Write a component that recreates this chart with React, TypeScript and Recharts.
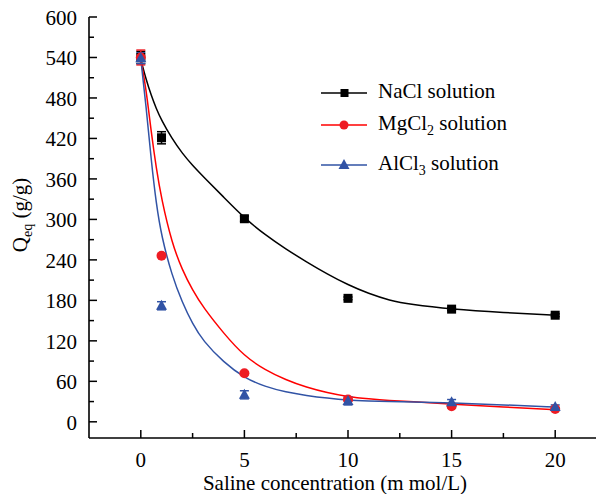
import { ComposedChart, Line, Scatter, XAxis, YAxis, ErrorBar, Legend, Label } from 'recharts';

// measured points
const concentration = [0, 1, 5, 10, 15, 20];
const naclQ = [540, 421, 301, 183, 167, 158];
const naclErr = [9, 9, 4, 2, 2, 2];
const mgcl2Q = [540, 246, 72, 33, 23, 19];
const mgcl2Err = [11, 2, 2, 2, 2, 2];
const alcl3Q = [539, 172, 40, 31, 29, 22];
const alcl3Err = [8, 6, 6, 6, 4, 3];

// fitted curves
const fitX = [0, 0.25, 0.5, 0.75, 1, 1.5, 2, 2.5, 3, 4, 5, 6, 7, 8, 9, 10, 11, 12, 13, 15, 17.5, 20];
const naclFit = [537, 508, 484, 464, 447, 420, 398, 380, 364, 333, 302, 277, 256, 237, 219, 203, 190, 180, 174, 167, 162, 158];
const mgcl2Fit = [537, 495, 430, 375, 330, 265, 225, 195, 170, 131, 97, 77, 62, 51, 43, 37, 34, 31.5, 30, 26, 22, 18];
const alcl3Fit = [537, 470, 388, 322, 275, 217, 177, 145, 120, 88, 65, 52, 44, 39, 35, 32, 31, 30, 29.5, 28, 25, 22];

const xTicks = [0, 2.5, 5, 7.5, 10, 12.5, 15, 17.5, 20];
const yTicks = [0, 30, 60, 90, 120, 150, 180, 210, 240, 270, 300, 330, 360, 390, 420, 450, 480, 510, 540, 570, 600];

const BLACK = '#000000';
const RED = '#ff0000';
const RED_PT = '#ee1c24';
const BLUE = '#3153a5';
const FONT = '"Liberation Serif", "Times New Roman", serif';

const points = (q: number[], err: number[]) => concentration.map((x, i) => ({ x, y: q[i], err: err[i] }));
const curve = (q: number[]) => fitX.map((x, i) => ({ x, y: q[i] }));

const Square = (p: any) => <rect x={p.cx - 4.5} y={p.cy - 4.5} width={9} height={9} fill={BLACK} />;
const Dot = (p: any) => <circle cx={p.cx} cy={p.cy} r={5} fill={RED_PT} />;
const Tri = (p: any) => (
	<polygon points={`${p.cx},${p.cy - 6} ${p.cx - 5.5},${p.cy + 4} ${p.cx + 5.5},${p.cy + 4}`} fill={BLUE} />
);

const XTick = (props: any) => {
	const { x, y, payload } = props;
	const major = payload.value % 5 === 0;
	return (
		<g>
			<line x1={x} x2={x} y1={y} y2={y - (major ? 8 : 5)} stroke={BLACK} strokeWidth={1.5} />
			{major && (
				<text x={x} y={y + 29} textAnchor="middle" fontSize={21} fontFamily={FONT} fill={BLACK}>
					{payload.value}
				</text>
			)}
		</g>
	);
};

const YTick = (props: any) => {
	const { x, y, payload } = props;
	const major = payload.value % 60 === 0;
	return (
		<g>
			<line x1={x} x2={x + (major ? 8 : 5)} y1={y} y2={y} stroke={BLACK} strokeWidth={1.5} />
			{major && (
				<text x={x - 12} y={y} dy="0.38em" textAnchor="end" fontSize={21} fontFamily={FONT} fill={BLACK}>
					{payload.value}
				</text>
			)}
		</g>
	);
};

const LegendBox = () => {
	const rows = [
		{ y: 16, color: BLACK, mark: 'square', name: 'NaCl', sub: '' },
		{ y: 48, color: RED, mark: 'circle', name: 'MgCl', sub: '2' },
		{ y: 88, color: BLUE, mark: 'tri', name: 'AlCl', sub: '3' },
	];
	return (
		<svg width={200} height={110} style={{ fontFamily: FONT }}>
			{rows.map((r) => (
				<g key={r.name}>
					<line x1={11} x2={57} y1={r.y} y2={r.y} stroke={r.color} strokeWidth={1.5} />
					{r.mark === 'square' && <rect x={30.5} y={r.y - 4} width={8} height={8} fill={BLACK} />}
					{r.mark === 'circle' && <circle cx={34} cy={r.y} r={4.5} fill={RED_PT} />}
					{r.mark === 'tri' && <polygon points={`34,${r.y - 6} 28.5,${r.y + 4} 39.5,${r.y + 4}`} fill={BLUE} />}
					<text x={68} y={r.y + 5} fontSize={21} fill={BLACK}>
						{r.name}
						{r.sub && (
							<tspan fontSize={14} dy={5}>
								{r.sub}
							</tspan>
						)}
						<tspan dy={r.sub ? -5 : 0}> solution</tspan>
					</text>
				</g>
			))}
		</svg>
	);
};

export default function App() {
	return (
		<div style={{ width: 596, height: 496, marginTop: -10, overflow: 'hidden' }}>
			<ComposedChart width={600} height={496} margin={{ top: 19, right: 1, bottom: 0, left: 0 }} style={{ fontFamily: FONT }}>
				<XAxis
					dataKey="x"
					type="number"
					domain={[-2.5, 22.5]}
					ticks={xTicks}
					interval={0}
					height={56}
					tickSize={0}
					tickMargin={0}
					tickLine={false}
					tick={<XTick />}
					axisLine={{ stroke: BLACK, strokeWidth: 1.6 }}
					allowDataOverflow
				>
					<Label
						content={(p: any) => {
							const vb = p.viewBox;
							return (
								<text x={vb.x + vb.width / 2 - 13} y={vb.y + 52} textAnchor="middle" fontSize={21} fontFamily={FONT} fill={BLACK}>
									Saline concentration (m mol/L)
								</text>
							);
						}}
					/>
				</XAxis>
				<XAxis
					xAxisId="top"
					orientation="top"
					type="number"
					domain={[-2.5, 22.5]}
					height={0}
					tick={false}
					tickLine={false}
					axisLine={{ stroke: BLACK, strokeWidth: 1.6 }}
				/>
				<YAxis
					type="number"
					domain={[-24, 600]}
					ticks={yTicks}
					interval={0}
					width={81}
					tickSize={0}
					tickMargin={0}
					tickLine={false}
					tick={<YTick />}
					axisLine={{ stroke: BLACK, strokeWidth: 1.6 }}
					allowDataOverflow
				>
					<Label
						content={() => (
							<text x={19} y={217} transform="rotate(-90 19 217)" textAnchor="middle" fontSize={21} fontFamily={FONT} fill={BLACK}>
								Q
								<tspan fontSize={14} dy={5}>
									eq
								</tspan>
								<tspan dy={-5}> (g/g)</tspan>
							</text>
						)}
					/>
				</YAxis>
				<YAxis yAxisId="right" orientation="right" width={0} tick={false} tickLine={false} axisLine={{ stroke: BLACK, strokeWidth: 1.6 }} />

				<Line data={curve(naclFit)} dataKey="y" type="basis" stroke={BLACK} strokeWidth={1.5} dot={false} isAnimationActive={false} />
				<Line data={curve(mgcl2Fit)} dataKey="y" type="basis" stroke={RED} strokeWidth={1.5} dot={false} isAnimationActive={false} />
				<Line data={curve(alcl3Fit)} dataKey="y" type="basis" stroke={BLUE} strokeWidth={1.5} dot={false} isAnimationActive={false} />

				<Scatter name="NaCl solution" data={points(naclQ, naclErr)} dataKey="y" shape={Square} isAnimationActive={false}>
					<ErrorBar dataKey="err" direction="y" width={4.5} stroke={BLACK} strokeWidth={1.5} />
				</Scatter>
				<Scatter name="MgCl2 solution" data={points(mgcl2Q, mgcl2Err)} dataKey="y" shape={Dot} isAnimationActive={false}>
					<ErrorBar dataKey="err" direction="y" width={4.5} stroke={RED_PT} strokeWidth={1.5} />
				</Scatter>
				<Scatter name="AlCl3 solution" data={points(alcl3Q, alcl3Err)} dataKey="y" shape={Tri} isAnimationActive={false}>
					<ErrorBar dataKey="err" direction="y" width={4.5} stroke={BLUE} strokeWidth={1.5} />
				</Scatter>

				<Legend
					layout="horizontal"
					verticalAlign="middle"
					align="center"
					wrapperStyle={{ left: 302, top: 79, width: 200, height: 110 }}
					content={() => <LegendBox />}
				/>
			</ComposedChart>
		</div>
	);
}
